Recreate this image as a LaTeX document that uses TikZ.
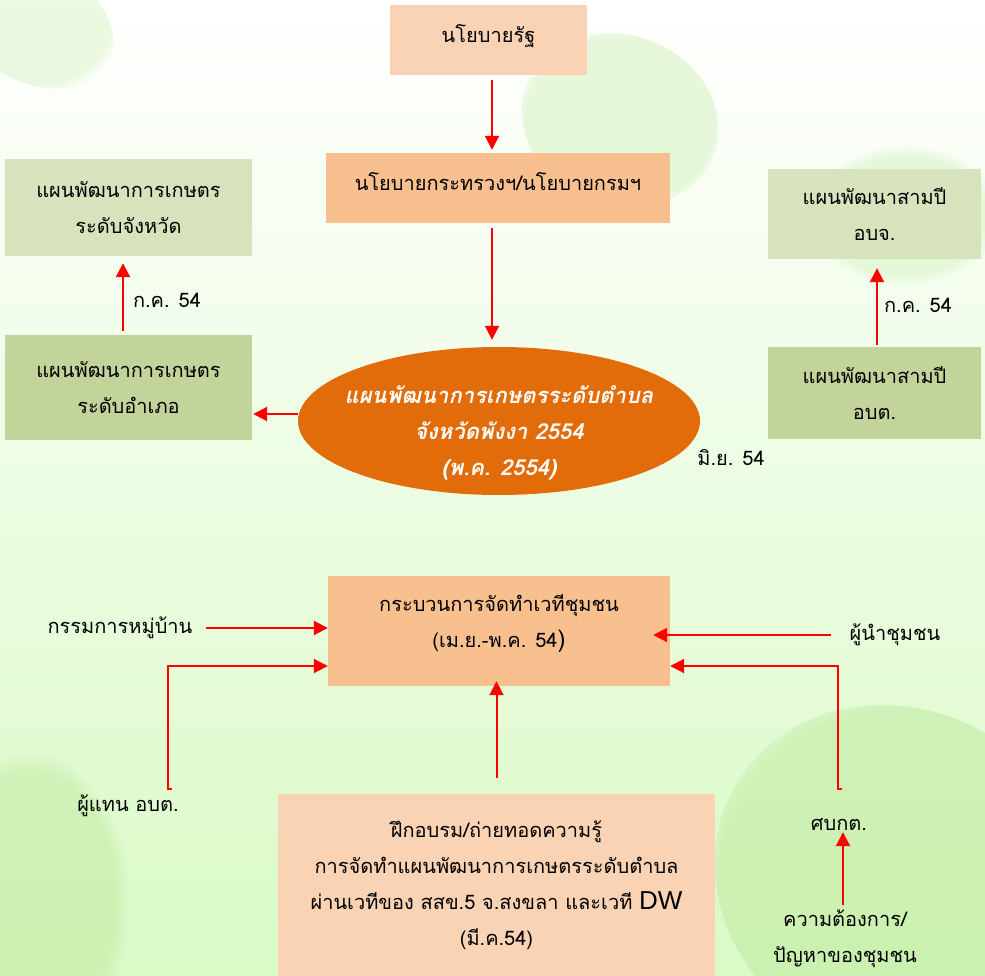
\documentclass[tikz,border=0pt]{standalone}
\usepackage{fontspec}
\setmainfont[Script=Thai]{Loma}
\newfontfamily\dwfont{Liberation Sans}
\usetikzlibrary{arrows.meta,shapes.geometric,fadings}
\definecolor{peachA}{HTML}{FAD3B4}
\definecolor{peachB}{HTML}{F8BF8F}
\definecolor{greenA}{HTML}{D7E3BC}
\definecolor{greenB}{HTML}{C3D49B}
\definecolor{planor}{HTML}{E26B0A}
\definecolor{bgmid}{HTML}{F0FDE8}
\definecolor{bgbot}{HTML}{DAFAC6}
\definecolor{leaf}{HTML}{BFEA9F}
\begin{document}
\begin{tikzpicture}[x=1pt,y=-1pt,
    box/.style={inner sep=0pt, align=center, font=\fontsize{20}{36}\selectfont},
    lbl/.style={inner sep=1pt, align=center, font=\fontsize{20}{36}\selectfont},
    leafy/.style={fill=leaf, path fading=circle with fuzzy edge 15 percent},
    arr/.style={red, line width=2pt, -{Triangle[width=14pt,length=14pt]}}]
\useasboundingbox (0,0) rectangle (985,976);
% background
\shade[top color=white, middle color=bgmid, bottom color=bgbot] (0,0) rectangle (985,976);
\fill[leafy, opacity=.35] (620,120) ellipse [x radius=100, y radius=85, rotate=-20];
\fill[leafy, opacity=.3] (905,215) ellipse [x radius=95, y radius=70];
\fill[leafy, opacity=.5] (30,900) ellipse [x radius=100, y radius=150];
\fill[leafy, opacity=.55] (900,880) ellipse [x radius=190, y radius=170, rotate=-30];
\fill[leafy, opacity=.3] (30,20) ellipse [x radius=90, y radius=60, rotate=-30];

% upper part
\node[box, fill=peachA, minimum width=197, minimum height=70, text depth=14pt] (rat) at (488.5,40) {นโยบายรัฐ};
\node[box, fill=peachB, minimum width=344, minimum height=70, text depth=14pt] (min) at (498,188) {นโยบายกระทรวงฯ/นโยบายกรมฯ};
\node[ellipse, fill=planor, minimum width=402, minimum height=148, inner sep=0pt] (plan) at (499,421) {};
\node[text=white, align=center, inner sep=0pt, font=\fontsize{22}{36}\selectfont\bfseries\itshape] (plantxt)
      at ([yshift=-12pt]plan.center) {แผนพัฒนาการเกษตรระดับตำบล\\จังหวัดพังงา 2554\\(พ.ค. 2554)};
\node[box, fill=greenA, minimum width=247, minimum height=97] (prov) at (128.5,207.5) {แผนพัฒนาการเกษตร\\ระดับจังหวัด};
\node[box, fill=greenB, minimum width=247, minimum height=105] (amp) at (128.5,387.5) {แผนพัฒนาการเกษตร\\ระดับอำเภอ};
\node[box, fill=greenA, minimum width=213, minimum height=90] (pao) at (874.5,214) {แผนพัฒนาสามปี\\อบจ.};
\node[box, fill=greenB, minimum width=213, minimum height=92] (tao) at (874.5,393) {แผนพัฒนาสามปี\\อบต.};
\node[lbl] (jul1) at (167,300) {ก.ค. 54};
\node[lbl] (jul2) at (918,305) {ก.ค. 54};
\node[lbl] (jun) at (731,458) {มิ.ย. 54};

\draw[arr, shorten <=5pt, shorten >=3pt] ([xshift=3.5pt]rat.south) -- ([xshift=3.5pt]rat.south |- min.north);
\draw[arr, shorten <=5pt, shorten >=7pt] ([xshift=-6pt]min.south) -- ([xshift=-6pt]min.south |- plan.north);
\draw[arr, shorten <=4pt, shorten >=7pt] ([xshift=-5.5pt]amp.north) -- ([xshift=-5.5pt]amp.north |- prov.south);
\draw[arr, shorten <=2pt, shorten >=9pt] ([xshift=2.5pt]tao.north) -- ([xshift=2.5pt]tao.north |- pao.south);
\draw[arr, shorten >=1pt] ([yshift=7pt]plan.west) -- ([yshift=7pt]plan.west -| amp.east);

% lower part
\node[box, fill=peachB, minimum width=342, minimum height=110, text depth=20pt] (proc) at (499,631) {กระบวนการจัดทำเวทีชุมชน\\(เม.ย.-พ.ค. 54{\fontsize{24}{36}\selectfont)}};
\node[box, fill=peachA, minimum width=437, minimum height=182] (train) at (496.5,885)
      {ฝึกอบรม/ถ่ายทอดความรู้\\การจัดทำแผนพัฒนาการเกษตรระดับตำบล\\ผ่านเวทีของ สสข.5 จ.สงขลา และเวที {\dwfont\fontsize{26}{30}\selectfont DW}\\(มี.ค.54)};
\node[lbl] (vil) at (120,628) {กรรมการหมู่บ้าน};
\node[lbl] (lead) at (895,635) {ผู้นำชุมชน};
\node[lbl] (rep) at (128,806) {ผู้แทน อบต.};
\node[lbl] (cent) at (839,825) {ศบกต.};
\node[lbl] (need) at (845,939) {ความต้องการ/\\ปัญหาของชุมชน};
\coordinate (repend) at (168,789);
\coordinate (centend) at (838,789);

\draw[arr] ([xshift=12pt]vil.east) -- (vil.east -| proc.west);
\draw[arr] ([xshift=-17pt]lead.west) -- ([xshift=-17pt]lead.west -| proc.east);
\draw[arr] ([xshift=4pt]repend) -- (repend) |- ([yshift=-35pt]proc.west);
\draw[arr] ([xshift=4pt]centend) -- (centend) |- ([yshift=-35pt]proc.east);
\draw[arr, shorten >=11pt] ([yshift=16pt]train.north) -- ([yshift=16pt]train.north |- proc.south);
\draw[arr, shorten <=4pt] ([xshift=-2pt]need.north) -- ([xshift=-2pt]need.north |- cent.south);
\end{tikzpicture}
\end{document}
